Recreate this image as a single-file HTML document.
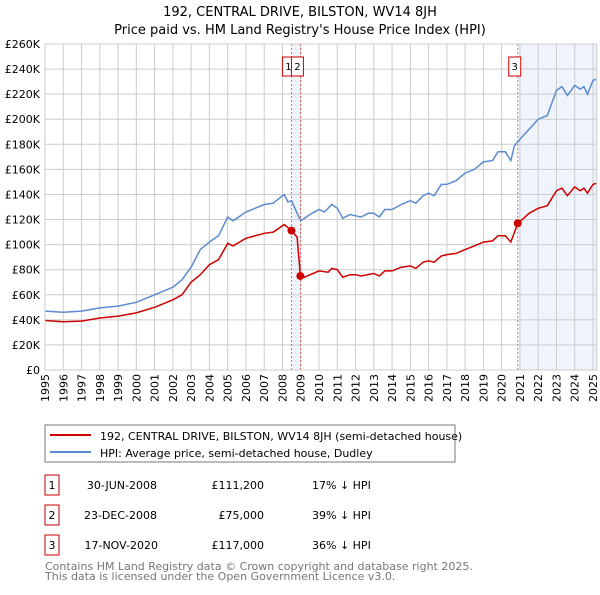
<!DOCTYPE html>
<html><head><meta charset="utf-8"><style>
body{margin:0;background:#fff;font-family:"Liberation Sans","DejaVu Sans",sans-serif;}
svg text{font-family:"DejaVu Sans","Liberation Sans",sans-serif;}
</style></head><body>
<svg id="c" width="600" height="590" xmlns="http://www.w3.org/2000/svg">
<text x="300" y="16" text-anchor="middle" font-size="13">192, CENTRAL DRIVE, BILSTON, WV14 8JH</text>
<text x="300" y="34" text-anchor="middle" font-size="13">Price paid vs. HM Land Registry's House Price Index (HPI)</text>
<g id="plot"></g>
<rect x="45" y="425" width="410" height="37" fill="#fff" stroke="#777"/>
<line x1="50" y1="435" x2="91" y2="435" stroke="#cc0000" stroke-width="2"/>
<text x="100" y="440" font-size="11">192, CENTRAL DRIVE, BILSTON, WV14 8JH (semi-detached house)</text>
<line x1="50" y1="452" x2="91" y2="452" stroke="#5b8bd0" stroke-width="2"/>
<text x="100" y="457" font-size="11">HPI: Average price, semi-detached house, Dudley</text>
<g font-size="11">
<rect x="45" y="475" width="14" height="20" fill="#fff" stroke="#cc0000"/><text x="52" y="489" text-anchor="middle">1</text>
<text x="157" y="489" text-anchor="end">30-JUN-2008</text><text x="264" y="489" text-anchor="end">£111,200</text><text x="312" y="489">17% ↓ HPI</text>
<rect x="45" y="505" width="14" height="20" fill="#fff" stroke="#cc0000"/><text x="52" y="519" text-anchor="middle">2</text>
<text x="157" y="519" text-anchor="end">23-DEC-2008</text><text x="264" y="519" text-anchor="end">£75,000</text><text x="312" y="519">39% ↓ HPI</text>
<rect x="45" y="535" width="14" height="20" fill="#fff" stroke="#cc0000"/><text x="52" y="549" text-anchor="middle">3</text>
<text x="158" y="549" text-anchor="end">17-NOV-2020</text><text x="264" y="549" text-anchor="end">£117,000</text><text x="312" y="549">36% ↓ HPI</text>
</g>
<text x="45" y="570" font-size="11" fill="#777">Contains HM Land Registry data © Crown copyright and database right 2025.</text>
<text x="45" y="580" font-size="11" fill="#777">This data is licensed under the Open Government Licence v3.0.</text>
</svg>
<script>
const yTicks=[0,20,40,60,80,100,120,140,160,180,200,220,240,260];
const years=[1995,1996,1997,1998,1999,2000,2001,2002,2003,2004,2005,2006,2007,2008,2009,2010,2011,2012,2013,2014,2015,2016,2017,2018,2019,2020,2021,2022,2023,2024,2025];
const hpiT=[1995,1996,1997,1998,1999,2000,2001,2002,2002.5,2003,2003.5,2004,2004.5,2005,2005.3,2006,2007,2007.5,2008,2008.1,2008.3,2008.5,2008.8,2009,2009.5,2010,2010.3,2010.7,2011,2011.3,2011.7,2012,2012.3,2012.7,2013,2013.3,2013.6,2014,2014.5,2015,2015.3,2015.7,2016,2016.3,2016.7,2017,2017.5,2018,2018.5,2019,2019.5,2019.8,2020.2,2020.5,2020.7,2021,2021.5,2022,2022.5,2023,2023.3,2023.6,2024,2024.3,2024.5,2024.7,2025,2025.2];
const hpiV=[47,46,47,49.5,51,54,60,66,72,82,96,102,107,122,119,126,132,133,139,140,134,135,125,119,124,128,126,132,129,121,124,123,122,125,125,122,128,128,132,135,133,139,141,139,148,148,151,157,160,166,167,174,174,167,179,184,192,200,203,223,226,219,227,224,226,220,231,232];
const ppT=[1995,1996,1997,1998,1999,2000,2001,2002,2002.5,2003,2003.5,2004,2004.5,2005,2005.3,2006,2007,2007.5,2008,2008.1,2008.49,2008.8,2008.98,2009.2,2010,2010.5,2010.7,2011,2011.3,2011.7,2012,2012.3,2013,2013.3,2013.6,2014,2014.5,2015,2015.3,2015.7,2016,2016.3,2016.7,2017,2017.5,2018,2018.5,2019,2019.5,2019.8,2020.2,2020.5,2020.7,2020.88,2021.2,2021.5,2022,2022.5,2023,2023.3,2023.6,2024,2024.3,2024.5,2024.7,2025,2025.2];
const ppV=[39.5,38.5,39,41.5,43,45.5,50,56,60,70,76,84,88,101,99,105,109,110,115,116,111.2,106,75,74,79,78,81,80,74,76,76,75,77,75,79,79,82,83,81,86,87,86,91,92,93,96,99,102,103,107,107,102,110,117,121,125,129,131,143,145,139,146,143,145,141,148,149];
const saleT=[2008.49,2008.98,2020.88];
const saleV=[111.2,75,117];
const saleLbl=["1","2","3"];
const X=t=>45+(t-1995)*(548/30), Y=v=>370-v*(326/260);
const NS="http://www.w3.org/2000/svg", g=document.getElementById('plot');
function mk(tag,a){const e=document.createElementNS(NS,tag);for(const k in a)e.setAttribute(k,a[k]);g.appendChild(e);return e;}
let e;
e=mk('rect',{x:X(saleT[0]),y:Y(260),width:X(saleT[1])-X(saleT[0]),height:Y(0)-Y(260),fill:'#eef3fc'});


e=mk('rect',{x:X(saleT[2]),y:Y(260),width:X(2025.2)-X(saleT[2]),height:Y(0)-Y(260),fill:'#eef3fc'});


yTicks.forEach(v=>{
 e=mk('line',{x1:45,x2:X(2025.2),y1:Y(v),y2:Y(v),stroke:'#ccc'});
 
 
 e=mk('text',{x:40,y:Y(v)+4,'text-anchor':'end','font-size':11});e.textContent=v===0?'£0':'£'+v+'K';
 
 
});
years.forEach(y=>{
 e=mk('line',{x1:X(y),x2:X(y),y1:Y(260),y2:Y(0),stroke:'#ccc'});
 
 
 e=mk('text',{x:0,y:0,'font-size':11,'text-anchor':'end',transform:`translate(${X(y)+4},374) rotate(-90)`});e.textContent=y;
 
 
});
saleT.forEach((t,i)=>{
 e=mk('line',{x1:X(t),x2:X(t),y1:Y(260),y2:Y(0),stroke:'#e05050','stroke-dasharray':'2,2','stroke-width':0.8});
 
 
});
const pts=(T,V)=>T.map((t,i)=>X(t).toFixed(1)+','+Y(V[i]).toFixed(1)).join(' ');
e=mk('polyline',{points:pts(hpiT,hpiV),fill:'none',stroke:'#5b8bd0','stroke-width':1.5});


e=mk('polyline',{points:pts(ppT,ppV),fill:'none',stroke:'#cc0000','stroke-width':1.5});


saleT.forEach((t,i)=>{
 e=mk('circle',{cx:X(t),cy:Y(saleV[i]),r:4,fill:'#cc0000'});
 
 
});
const bx=[X(saleT[0])-9,X(saleT[1])-9,X(saleT[2])-9];
saleLbl.forEach((l,i)=>{
 const x=i===0?X(saleT[0])-9:(i===1?X(saleT[0])+0:X(saleT[2])-9);
 e=mk('rect',{x:x,y:57,width:12,height:19,fill:'#fff',stroke:'#cc0000'});
 
 
 e=mk('text',{x:x+6,y:70,'text-anchor':'middle','font-size':10});e.textContent=l;
 
 
});
e=mk('rect',{x:45,y:Y(260),width:X(2025.2)-45,height:Y(0)-Y(260),fill:'none',stroke:'#ccc'});


</script>
</body></html>
